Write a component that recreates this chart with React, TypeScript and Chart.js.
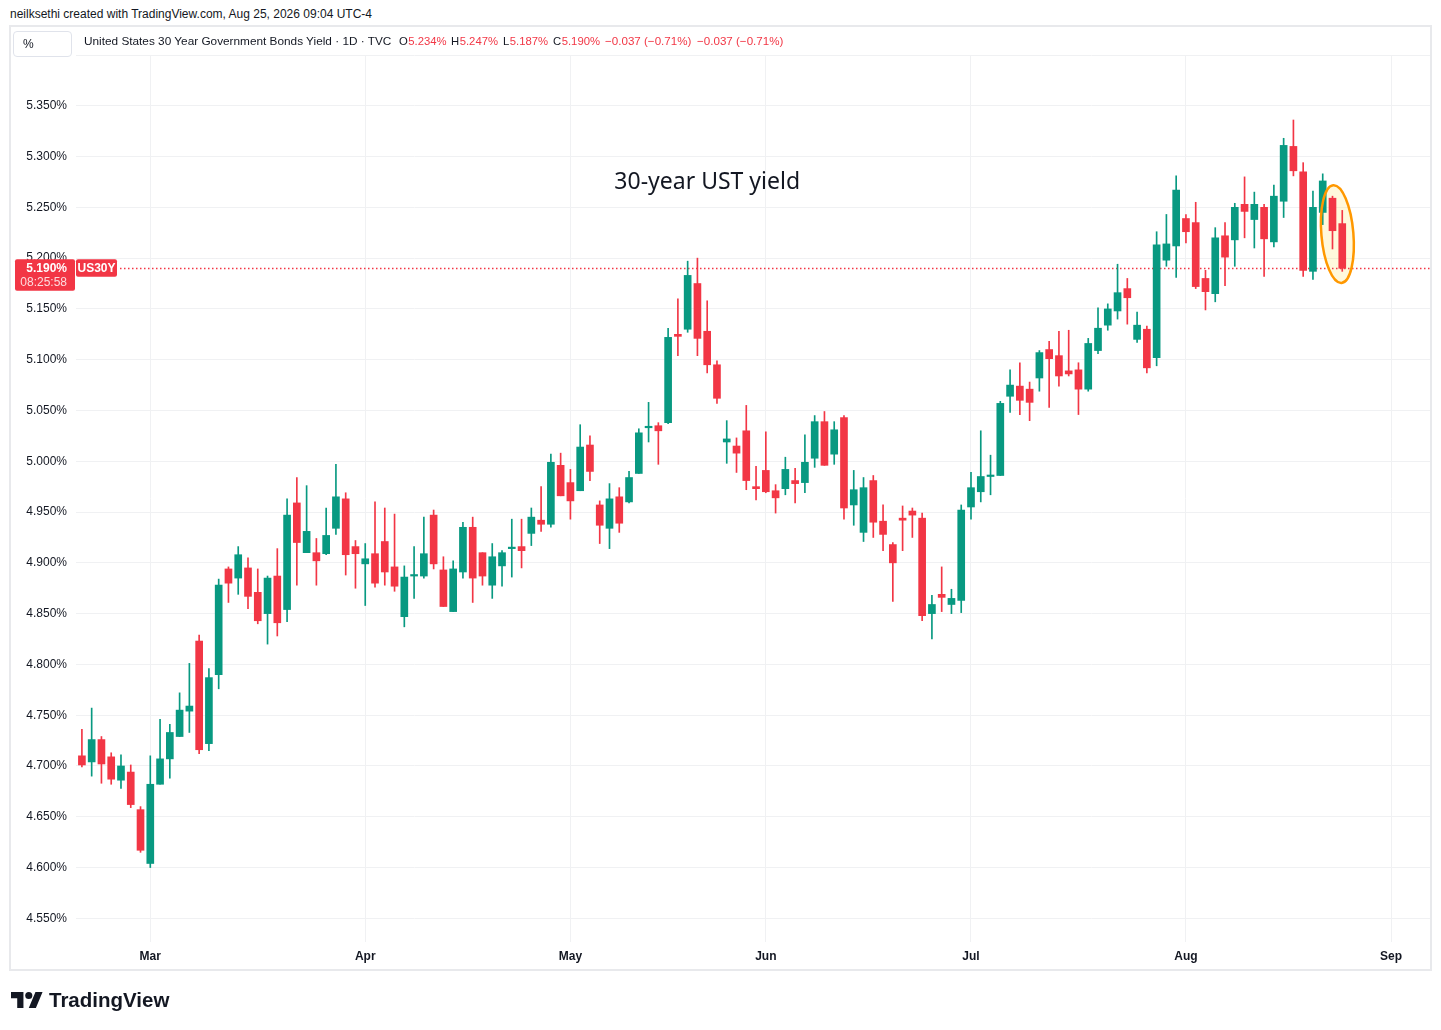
import React, { useEffect, useRef } from "react";
import { Chart, registerables } from "chart.js";

Chart.register(...registerables);

// ---- Data: US 30Y yield daily candles, 2026-02-19 .. 2026-08-25 (trading days) ----
const firstDate = "2026-02-19";
const opens = [
  4.710, 4.704, 4.726, 4.709, 4.686, 4.694, 4.657, 4.604, 4.682, 4.707,
  4.729, 4.754, 4.823, 4.722, 4.790, 4.894, 4.885, 4.895, 4.871, 4.850,
  4.887, 4.854, 4.959, 4.910, 4.910, 4.909, 4.934, 4.963, 4.916, 4.899,
  4.909, 4.921, 4.896, 4.847, 4.887, 4.887, 4.947, 4.893, 4.852, 4.891,
  4.935, 4.910, 4.878, 4.897, 4.914, 4.916, 4.929, 4.942, 4.938, 4.996,
  4.979, 4.971, 5.016, 4.957, 4.934, 4.965, 4.960, 4.988, 5.033, 5.035,
  5.038, 5.125, 5.130, 5.175, 5.128, 5.095, 5.019, 5.015, 5.030, 4.975,
  4.991, 4.971, 4.973, 4.981, 4.979, 5.003, 5.039, 5.007, 5.043, 4.957,
  4.930, 4.981, 4.941, 4.918, 4.944, 4.951, 4.944, 4.850, 4.869, 4.859,
  4.863, 4.955, 4.970, 4.985, 4.986, 5.064, 5.074, 5.071, 5.082, 5.110,
  5.104, 5.089, 5.090, 5.071, 5.109, 5.134, 5.148, 5.170, 5.120, 5.130,
  5.102, 5.198, 5.212, 5.239, 5.235, 5.180, 5.165, 5.222, 5.218, 5.253,
  5.238, 5.250, 5.216, 5.256, 5.310, 5.285, 5.187, 5.245, 5.259, 5.234,
];
const highs = [
  4.736, 4.757, 4.729, 4.713, 4.711, 4.701, 4.660, 4.710, 4.746, 4.741,
  4.772, 4.801, 4.829, 4.796, 4.884, 4.896, 4.916, 4.905, 4.894, 4.887,
  4.914, 4.963, 4.984, 4.976, 4.924, 4.954, 4.997, 4.969, 4.922, 4.919,
  4.960, 4.954, 4.948, 4.897, 4.916, 4.945, 4.952, 4.906, 4.902, 4.940,
  4.945, 4.910, 4.919, 4.912, 4.943, 4.943, 4.954, 4.975, 5.007, 5.008,
  4.992, 5.036, 5.025, 4.961, 4.978, 4.974, 4.990, 5.032, 5.058, 5.038,
  5.131, 5.160, 5.197, 5.200, 5.158, 5.099, 5.040, 5.023, 5.055, 4.995,
  5.029, 4.977, 5.004, 4.993, 5.026, 5.045, 5.049, 5.039, 5.045, 4.991,
  4.984, 4.986, 4.957, 4.920, 4.956, 4.954, 4.949, 4.868, 4.896, 4.874,
  4.957, 4.989, 5.030, 5.006, 5.059, 5.090, 5.097, 5.078, 5.109, 5.118,
  5.128, 5.129, 5.097, 5.121, 5.151, 5.155, 5.194, 5.180, 5.147, 5.133,
  5.226, 5.243, 5.281, 5.243, 5.255, 5.188, 5.230, 5.235, 5.254, 5.280,
  5.265, 5.253, 5.272, 5.318, 5.336, 5.294, 5.266, 5.283, 5.261, 5.247,
];
const lows = [
  4.699, 4.690, 4.683, 4.682, 4.678, 4.659, 4.615, 4.600, 4.682, 4.688,
  4.729, 4.733, 4.712, 4.715, 4.776, 4.861, 4.869, 4.855, 4.840, 4.820,
  4.828, 4.842, 4.878, 4.910, 4.878, 4.908, 4.928, 4.888, 4.875, 4.858,
  4.876, 4.878, 4.872, 4.837, 4.865, 4.885, 4.894, 4.857, 4.852, 4.885,
  4.861, 4.878, 4.865, 4.877, 4.886, 4.895, 4.917, 4.931, 4.935, 4.966,
  4.943, 4.971, 4.981, 4.919, 4.914, 4.930, 4.959, 4.988, 5.019, 4.997,
  5.037, 5.104, 5.127, 5.104, 5.087, 5.057, 4.998, 4.989, 4.972, 4.962,
  4.969, 4.949, 4.967, 4.959, 4.969, 4.994, 4.996, 4.997, 4.943, 4.937,
  4.921, 4.925, 4.912, 4.862, 4.912, 4.925, 4.843, 4.825, 4.852, 4.850,
  4.851, 4.943, 4.960, 4.967, 4.986, 5.048, 5.046, 5.040, 5.069, 5.053,
  5.074, 5.084, 5.046, 5.069, 5.106, 5.129, 5.140, 5.135, 5.117, 5.087,
  5.094, 5.192, 5.181, 5.215, 5.170, 5.149, 5.157, 5.173, 5.192, 5.220,
  5.210, 5.182, 5.211, 5.240, 5.281, 5.182, 5.179, 5.233, 5.209, 5.187,
];
const closes = [
  4.701, 4.726, 4.702, 4.687, 4.700, 4.662, 4.617, 4.682, 4.707, 4.733,
  4.755, 4.759, 4.716, 4.787, 4.878, 4.880, 4.908, 4.867, 4.843, 4.885,
  4.841, 4.947, 4.920, 4.931, 4.902, 4.927, 4.965, 4.908, 4.909, 4.904,
  4.880, 4.891, 4.877, 4.886, 4.888, 4.909, 4.899, 4.857, 4.894, 4.935,
  4.885, 4.887, 4.906, 4.910, 4.915, 4.912, 4.945, 4.938, 4.999, 4.966,
  4.961, 5.014, 4.990, 4.937, 4.963, 4.939, 4.984, 5.028, 5.034, 5.030,
  5.122, 5.123, 5.183, 5.121, 5.095, 5.062, 5.022, 5.008, 4.981, 4.973,
  4.970, 4.964, 4.992, 4.978, 4.999, 5.039, 4.996, 5.031, 4.954, 4.972,
  4.974, 4.940, 4.928, 4.900, 4.942, 4.947, 4.848, 4.859, 4.866, 4.865,
  4.952, 4.974, 4.985, 4.986, 5.057, 5.075, 5.060, 5.058, 5.107, 5.101,
  5.084, 5.086, 5.071, 5.116, 5.131, 5.150, 5.166, 5.161, 5.134, 5.092,
  5.213, 5.214, 5.267, 5.226, 5.172, 5.167, 5.220, 5.201, 5.250, 5.246,
  5.253, 5.219, 5.261, 5.311, 5.286, 5.188, 5.250, 5.276, 5.227, 5.190,
];

// Month labels on the time axis, placed at the bar index of each month's first trading day
const monthLabels = ["Mar", "Apr", "May", "Jun", "Jul", "Aug", "Sep"];
const monthStartIdx = [7, 29, 50, 70, 91, 113, 134];

// Price axis ticks
const yTickValues = [
  4.55, 4.6, 4.65, 4.7, 4.75, 4.8, 4.85, 4.9, 4.95, 5.0, 5.05, 5.1, 5.15, 5.2, 5.25, 5.3, 5.35, 5.4,
];

// Legend (OHLC of last bar)
const legendTitle = "United States 30 Year Government Bonds Yield · 1D · TVC";
const legendKeys = ["O", "H", "L", "C"];
const legendValues = ["5.234%", "5.247%", "5.187%", "5.190%"];
const legendChange = "−0.037 (−0.71%)";

const lastPrice = 5.19;
const countdown = "08:25:58";
const symbol = "US30Y";
const annotationText = "30-year UST yield";
const annotationAt = { x: 64.0, y: 5.275 };
const ellipseAt = { x: 128.5, y: 5.2237 };

const UP = "#089981";
const DOWN = "#F23645";
const TEXT = "#131722";
const GRID = "#f0f1f3";
const SANS = '"Liberation Sans", Arial, sans-serif';

export default function App() {
  const canvasRef = useRef<HTMLCanvasElement | null>(null);

  useEffect(() => {
    document.body.style.margin = "0";
    document.body.style.overflow = "hidden";
    const canvas = canvasRef.current;
    if (!canvas) return;

    const isUp = closes.map((c, i) => c >= opens[i]);
    const colors = isUp.map((u) => (u ? UP : DOWN));
    const bodyData = opens.map((o, i) => ({ x: i, y: [o, closes[i]] }));
    const wickData = lows.map((l, i) => ({ x: i, y: [l, highs[i]] }));

    const overlay = {
      id: "overlay",
      beforeDatasetsDraw(chart: any) {
        const { ctx, chartArea, scales } = chart;
        const x = scales.x;
        const y = scales.y;
        ctx.save();
        const ex = x.getPixelForValue(ellipseAt.x);
        const ey = y.getPixelForValue(ellipseAt.y);
        ctx.beginPath();
        ctx.ellipse(ex, ey, 16, 49, -0.085, 0, Math.PI * 2);
        ctx.fillStyle = "rgba(255,220,80,0.2)";
        ctx.fill();
        const py = Math.round(y.getPixelForValue(lastPrice)) + 0.5;
        ctx.strokeStyle = DOWN;
        ctx.lineWidth = 1.5;
        ctx.setLineDash([1.5, 2.5]);
        ctx.beginPath();
        ctx.moveTo(120, py);
        ctx.lineTo(chartArea.right, py);
        ctx.stroke();
        ctx.restore();
      },
      afterDatasetsDraw(chart: any) {
        const { ctx, scales } = chart;
        const x = scales.x;
        const y = scales.y;
        ctx.save();
        const ex = x.getPixelForValue(ellipseAt.x);
        const ey = y.getPixelForValue(ellipseAt.y);
        ctx.beginPath();
        ctx.ellipse(ex, ey, 16, 49, -0.085, 0, Math.PI * 2);
        ctx.strokeStyle = "#FF9800";
        ctx.lineWidth = 2.5;
        ctx.stroke();

        ctx.fillStyle = TEXT;
        ctx.font = '23px "Noto Sans", sans-serif';
        ctx.textAlign = "center";
        ctx.textBaseline = "middle";
        ctx.fillText(annotationText, x.getPixelForValue(annotationAt.x), y.getPixelForValue(annotationAt.y));
        ctx.restore();
      },
      afterDraw(chart: any) {
        const { ctx, scales } = chart;
        const y = scales.y;
        const py = y.getPixelForValue(lastPrice);
        ctx.save();
        ctx.fillStyle = DOWN;
        ctx.beginPath();
        ctx.roundRect(15, py - 9, 60, 31.5, 2);
        ctx.fill();
        ctx.beginPath();
        ctx.roundRect(76, py - 9, 41, 17.5, 2);
        ctx.fill();
        ctx.textBaseline = "middle";
        ctx.textAlign = "right";
        ctx.fillStyle = "#ffffff";
        ctx.font = `bold 12px ${SANS}`;
        ctx.fillText(lastPrice.toFixed(3) + "%", 67, py + 0.5);
        ctx.fillStyle = "rgba(255,255,255,0.82)";
        ctx.font = `12px ${SANS}`;
        ctx.fillText(countdown, 67, py + 14);
        ctx.textAlign = "center";
        ctx.fillStyle = "#ffffff";
        ctx.font = `bold 12px ${SANS}`;
        ctx.fillText(symbol, 96.5, py + 0.5);
        ctx.restore();
      },
    };

    const chart = new Chart(canvas, {
      type: "bar",
      data: {
        datasets: [
          {
            label: "body",
            data: bodyData as any,
            backgroundColor: colors,
            borderWidth: 0,
            barThickness: 7,
            minBarLength: 1.5,
            grouped: false,
            borderSkipped: false,
          } as any,
          {
            label: "wick",
            data: wickData as any,
            backgroundColor: colors,
            borderWidth: 0,
            barThickness: 1,
            grouped: false,
            borderSkipped: false,
          } as any,
        ],
      },
      options: {
        animation: false,
        responsive: false,
        devicePixelRatio: 1,
        layout: { padding: { left: 10, top: 55, right: 11, bottom: 61 } },
        plugins: {
          legend: { display: false },
          tooltip: { enabled: false },
        },
        scales: {
          x: {
            type: "linear",
            min: -0.604,
            max: 137.98,
            offset: false,
            grid: { color: GRID, drawTicks: false, lineWidth: 1, offset: false },
            border: { display: false },
            afterBuildTicks: (s: any) => {
              s.ticks = monthStartIdx.map((v) => ({ value: v }));
            },
            afterFit: (s: any) => {
              s.height = 27;
            },
            ticks: {
              autoSkip: false,
              maxRotation: 0,
              minRotation: 0,
              padding: 7,
              color: TEXT,
              font: { family: SANS, size: 12, weight: "bold" },
              callback: (v: any) => {
                const k = monthStartIdx.indexOf(Math.round(Number(v)));
                return k >= 0 ? monthLabels[k] : "";
              },
            },
          },
          y: {
            type: "linear",
            position: "left",
            min: 4.5267,
            max: 5.4,
            grid: { color: GRID, drawTicks: false, lineWidth: 1 },
            border: { display: false },
            afterBuildTicks: (s: any) => {
              s.ticks = yTickValues.map((v) => ({ value: v }));
            },
            afterFit: (s: any) => {
              s.width = 66;
            },
            ticks: {
              padding: 9,
              color: TEXT,
              font: { family: SANS, size: 12 },
              callback: (v: any) => (Number(v) > 5.375 ? "" : Number(v).toFixed(3) + "%"),
            },
          },
        },
      } as any,
      plugins: [overlay],
    });

    return () => {
      chart.destroy();
    };
  }, []);

  const abs = (left: number, extra?: React.CSSProperties): React.CSSProperties => ({
    position: "absolute",
    left,
    top: 33,
    lineHeight: "16px",
    whiteSpace: "nowrap",
    ...extra,
  });
  const keyLefts = [399, 451, 503, 553];

  return (
    <div
      style={{
        position: "absolute",
        left: 0,
        top: 0,
        width: 1441,
        height: 1030,
        background: "#ffffff",
        overflow: "hidden",
        fontFamily: SANS,
        fontSize: 12,
        color: TEXT,
      }}
      data-first-date={firstDate}
    >
      <div style={{ position: "absolute", left: 10, top: 6, lineHeight: "16px", whiteSpace: "nowrap" }}>
        neilksethi created with TradingView.com, Aug 25, 2026 09:04 UTC-4
      </div>
      <div
        style={{
          position: "absolute",
          left: 9,
          top: 25,
          width: 1419,
          height: 942,
          border: "2px solid #e8e9ec",
        }}
      />
      <canvas ref={canvasRef} width={1441} height={1030} style={{ position: "absolute", left: 0, top: 0, width: 1441, height: 1030 }} />
      <div
        style={{
          position: "absolute",
          left: 13,
          top: 31,
          width: 57,
          height: 24,
          border: "1px solid #e0e3eb",
          borderRadius: 4,
          background: "#fff",
        }}
      >
        <span style={{ position: "absolute", left: 9, top: 4, lineHeight: "16px" }}>%</span>
      </div>
      <div style={abs(84, { fontSize: 11.8 })}>{legendTitle}</div>
      {legendKeys.map((k, i) => (
        <div key={k} style={abs(keyLefts[i], { fontSize: 11.3 })}>
          {k}
          <span style={{ color: DOWN, marginLeft: 0.5 }}>{legendValues[i]}</span>
        </div>
      ))}
      <div style={abs(605, { color: DOWN, fontSize: 11.6 })}>{legendChange}</div>
      <div style={abs(697, { color: DOWN, fontSize: 11.6 })}>{legendChange}</div>
      <svg
        style={{ position: "absolute", left: 11, top: 992 }}
        width={32}
        height={16}
        viewBox="0 4 36 18"
      >
        <path d="M14 22H7V11H0V4h14v18zM28 22h-8l7.5-18h8L28 22z" fill="#131722" />
        <circle cx="20" cy="8" r="4" fill="#131722" />
      </svg>
      <div
        style={{
          position: "absolute",
          left: 49,
          top: 987,
          fontFamily: SANS,
          fontWeight: 700,
          fontSize: 20.5,
          lineHeight: "26px",
          color: "#131722",
          whiteSpace: "nowrap",
        }}
      >
        TradingView
      </div>
    </div>
  );
}
